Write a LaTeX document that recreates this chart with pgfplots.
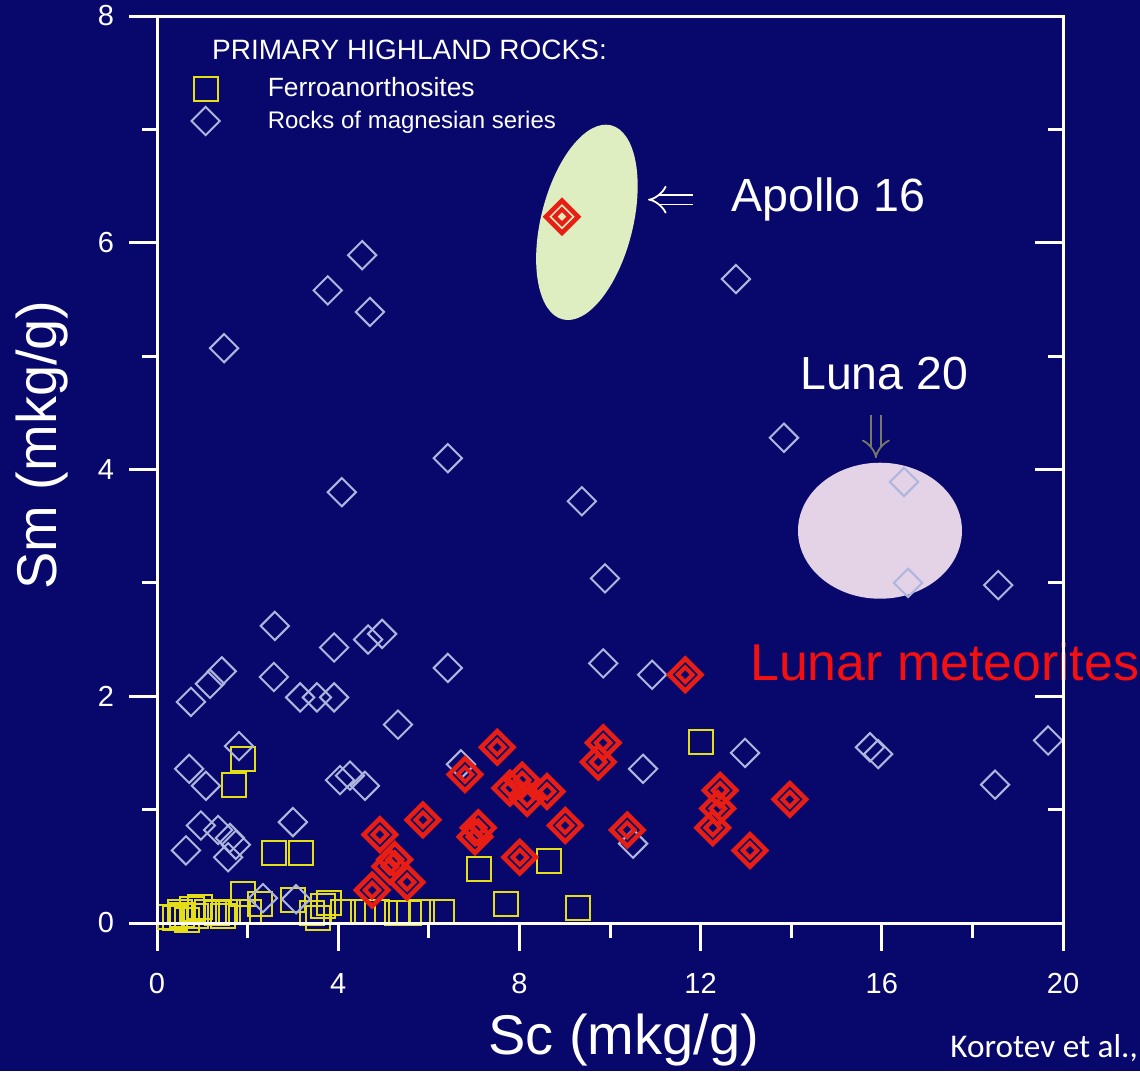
\documentclass[border=0pt]{standalone}
\usepackage{pgfplots}
\pgfplotsset{compat=1.18}
\usepackage{fontspec}
\setmainfont{Liberation Sans}
\newfontfamily\carlito{Carlito}
\usetikzlibrary{shapes.geometric,arrows.meta}
\definecolor{bg}{RGB}{8,8,108}
\definecolor{magc}{RGB}{175,182,222}
\definecolor{ferc}{RGB}{228,222,24}
\definecolor{redc}{RGB}{232,30,20}
\definecolor{apollo}{RGB}{222,238,192}
\definecolor{luna}{RGB}{228,210,230}
\definecolor{arrgray}{RGB}{120,120,105}
\definecolor{lmred}{RGB}{245,15,15}

\pgfplotstableread{
x y
1.90 1.45
1.70 1.22
2.58 0.62
3.18 0.62
7.10 0.48
8.65 0.55
12.01 1.60
7.70 0.17
9.29 0.13
1.90 0.26
3.00 0.20
0.29 0.05
0.40 0.04
0.50 0.10
0.56 0.07
0.66 0.03
0.77 0.12
0.95 0.14
0.85 0.06
1.10 0.10
1.32 0.09
1.45 0.06
1.57 0.10
1.79 0.10
2.02 0.10
2.27 0.17
3.42 0.09
3.55 0.04
3.67 0.15
3.80 0.18
4.10 0.10
4.55 0.10
4.86 0.10
5.30 0.09
5.56 0.09
5.85 0.10
6.30 0.10
}\ferro

\pgfplotstableread{
x y
4.53 5.89
3.77 5.58
4.70 5.39
1.48 5.07
12.78 5.68
6.42 4.10
4.08 3.80
9.38 3.72
13.84 4.28
16.49 3.89
16.58 3.00
9.89 3.04
18.57 2.98
2.60 2.62
4.97 2.55
4.66 2.50
3.91 2.43
2.58 2.17
1.43 2.22
1.17 2.11
0.75 1.95
3.16 1.99
3.53 1.99
3.91 1.99
6.42 2.25
9.85 2.29
10.93 2.19
5.32 1.75
1.81 1.56
0.71 1.36
1.08 1.21
4.04 1.26
4.26 1.30
4.59 1.21
6.71 1.40
10.73 1.36
12.98 1.50
15.74 1.55
15.92 1.49
19.67 1.61
18.50 1.22
0.97 0.86
1.35 0.82
1.61 0.75
1.74 0.69
1.57 0.58
0.64 0.64
3.00 0.89
10.51 0.70
2.34 0.22
3.07 0.21
}\magn

\pgfplotstableread{
x y
8.94 6.23
11.66 2.19
7.51 1.55
9.85 1.59
9.74 1.42
6.80 1.31
7.79 1.19
8.06 1.26
8.17 1.10
8.61 1.16
12.43 1.17
12.38 1.01
12.27 0.84
13.97 1.09
13.09 0.64
7.09 0.84
7.02 0.76
9.01 0.86
10.38 0.82
8.01 0.58
4.92 0.78
5.87 0.91
5.25 0.56
5.14 0.50
5.52 0.36
4.75 0.29
}\lunmet

\begin{document}
\begin{tikzpicture}
\fill[bg] (0,0) rectangle (570pt,535.5pt);
\begin{axis}[
  at={(78.5pt,74pt)}, anchor=south west,
  scale only axis, width=453pt, height=453.5pt,
  xmin=0, xmax=20, ymin=0, ymax=8,
  clip=false, axis on top,
  axis line style={white, line width=1.5pt},
  xtick={0,4,...,20}, minor xtick={2,6,...,18},
  ytick={0,2,...,8}, minor ytick={1,3,5,7},
  xtick pos=bottom, ytick pos=left,
  tick align=outside,
  major tick length=14pt, minor tick length=7.5pt,
  tick style={white, line width=1.5pt},
  /pgf/number format/assume math mode=true,
  tick label style={text=white, font=\fontsize{14.5}{16}\selectfont},
  xticklabel style={yshift=-7.5pt},
  yticklabel style={xshift=-4pt},
  xlabel={Sc (mkg/g)}, ylabel={Sm (mkg/g)},
  label style={text=white, font=\fontsize{28}{32}\selectfont},
  xlabel style={at={(axis description cs:0.515,-0.129)}, anchor=center},
  ylabel style={at={(axis description cs:-0.127,0.527)}, anchor=center},
  legend style={at={(axis cs:0.62,7.53)}, anchor=north west, draw=none, fill=none,
     text=white, font=\fontsize{12}{14.5}\selectfont, row sep=1.5pt,
     /tikz/every odd column/.append style={column sep=22pt}},
  legend cell align=left,
]
\node[ellipse, fill=apollo, draw=none, minimum width=100pt, minimum height=46pt, inner sep=0pt, rotate=76] at (axis cs:9.49,6.18) {};
\node[ellipse, fill=luna, draw=none, minimum width=82pt, minimum height=68pt, inner sep=0pt] at (axis cs:15.96,3.46) {};

\addplot[only marks, mark=square, mark size=6pt, mark options={draw=ferc, line width=1pt, fill=none}] table {\ferro};
\addlegendentry{\fontsize{13.2}{14.5}\selectfont Ferroanorthosites}
\addplot[only marks, mark=square, mark size=5pt, mark options={draw=magc, line width=1pt, fill=none, rotate=45}] table {\magn};
\addlegendentry{Rocks of magnesian series}
\addplot[forget plot, only marks, mark=square, mark size=5.7pt, mark options={draw=redc, line width=2.3pt, fill=none, rotate=45}] table {\lunmet};
\addplot[forget plot, only marks, mark=square, mark size=2.6pt, mark options={draw=redc, line width=2pt, fill=none, rotate=45}] table {\lunmet};

\node[anchor=west, inner sep=0pt, text=white, font=\fontsize{14}{16}\selectfont] at (axis cs:1.21,7.70) {PRIMARY HIGHLAND ROCKS:};
\draw[white, line width=0.9pt, double=bg, double distance=4pt, -{Implies}] (axis cs:11.83,6.38) -- (axis cs:10.84,6.38);
\node[anchor=west, inner sep=0pt, text=white, font=\fontsize{23.3}{28}\selectfont] at (axis cs:12.67,6.38) {Apollo 16};
\node[anchor=center, inner sep=0pt, text=white, font=\fontsize{23.2}{28}\selectfont] at (axis cs:16.05,4.85) {Luna 20};
\draw[arrgray, line width=0.9pt, double=bg, double distance=4pt, -{Implies}] (axis cs:15.87,4.48) -- (axis cs:15.87,4.10);
\node[anchor=west, inner sep=0pt, text=lmred, font=\fontsize{25.9}{30}\selectfont] at (axis cs:13.09,2.30) {Lunar meteorites};
\end{axis}
\begin{axis}[
  at={(78.5pt,74pt)}, anchor=south west,
  scale only axis, width=453pt, height=453.5pt,
  xmin=0, xmax=20, ymin=0, ymax=8,
  axis line style={white, line width=1.5pt},
  xtick=\empty, minor xtick={2,4,...,18},
  ytick={2,4,6}, minor ytick={1,3,5,7},
  xtick pos=top, ytick pos=right,
  tick align=inside,
  major tick length=14pt, minor tick length=7.5pt,
  tick style={white, line width=1.5pt},
  xticklabels={}, yticklabels={},
]
\end{axis}
\node[anchor=base west, inner sep=0pt, text=white, font=\carlito\fontsize{16.6}{20}\selectfont] at (475pt,7pt) {Korotev et al.,};
\pgfresetboundingbox
\useasboundingbox (0,0) rectangle (570pt,535.5pt);
\end{tikzpicture}
\end{document}
